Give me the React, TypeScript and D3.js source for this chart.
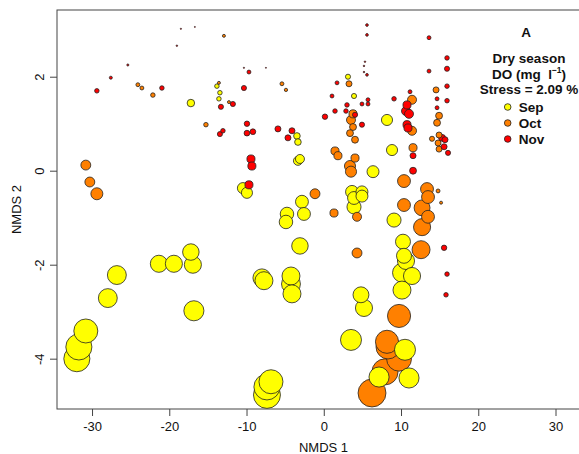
import * as d3 from 'd3';
import React from 'react';

// [NMDS1, NMDS2, size]
const sep: [number, number, number][] = [
  [-17.27, 1.45, 2.5], [-13.9, 1.81, 1.5], [-13.51, 1.67, 1.5], [-13.64, 1.54, 1.5],
  [-3.54, 0.75, 2.2], [-3.41, 0.62, 2.2], [-3.41, 0.22, 3.0], [-3.15, 0.26, 3.0],
  [-10.53, -0.36, 3.7], [-10.01, -0.46, 3.7], [-2.89, -0.65, 4.3], [-2.63, -0.91, 4.3],
  [-4.83, -0.91, 4.5], [-4.96, -1.08, 4.5], [-3.15, -1.59, 5.5], [-17.27, -1.72, 5.5],
  [-21.41, -1.97, 5.7], [-19.47, -1.97, 5.7], [-17.01, -1.99, 5.7], [-26.85, -2.21, 6.3],
  [-28.02, -2.7, 6.3], [-16.88, -2.97, 6.7], [-30.87, -3.4, 8], [-32.03, -3.99, 8.7],
  [-31.77, -3.74, 8.7], [-8.07, -2.27, 6], [-7.81, -2.33, 6], [-4.31, -2.23, 6],
  [-4.31, -2.4, 6.3], [-4.18, -2.61, 6], [-6.9, -4.48, 8], [-7.42, -4.59, 8.7],
  [-7.42, -4.76, 9], [3.07, 2.01, 1.7], [3.85, 1.6, 1.7], [8.12, 1.09, 3.7],
  [8.77, 0.45, 3.7], [6.31, -0.01, 4], [3.59, -0.44, 4.3], [4.88, -0.44, 4],
  [4.88, -0.53, 4], [3.85, -0.57, 4.3], [3.85, -0.76, 4.7], [9.03, -1.04, 4.7],
  [10.19, -1.5, 5], [10.32, -1.8, 5], [10.58, -1.91, 5.7], [10.06, -2.16, 6.3],
  [11.36, -2.23, 5.7], [10.06, -2.53, 6], [4.75, -2.63, 5.3], [5.14, -2.91, 5.7],
  [3.46, -3.59, 7], [10.45, -3.8, 7], [7.09, -4.38, 6.7], [10.97, -4.4, 6.7],
];

const oct: [number, number, number][] = [
  [-12.99, 2.88, 1], [-24.13, 1.84, 1.3], [-23.61, 1.77, 1.3], [-22.19, 1.62, 1.5],
  [-13.64, 1.88, 1], [-12.34, 1.47, 1], [-15.32, 0.99, 1.5], [-5.48, 1.86, 1.3],
  [-4.96, 1.73, 1.1], [-30.87, 0.13, 3.3], [-30.35, -0.23, 3.3], [-29.44, -0.48, 4],
  [-1.2, -0.48, 3.3], [1.26, -0.89, 2.7], [1.39, 0.43, 2.7], [1.77, 0.33, 2.7],
  [3.2, 1.86, 2], [3.72, 1.22, 2.7], [3.46, 1.09, 3], [3.72, 0.94, 2.3],
  [3.33, 0.81, 2.3], [3.98, 0.67, 2.3], [3.98, 0.28, 2.7], [3.33, 0.11, 3.7],
  [3.46, -0.01, 3.7], [4.24, -0.97, 3], [4.24, -1.74, 3.3], [11.36, 1.52, 3],
  [11.36, 0.86, 3], [11.49, 0.5, 2.7], [10.32, -0.21, 4.3], [10.32, -0.72, 4.3],
  [13.3, -0.38, 4.3], [13.43, -0.55, 4.3], [12.66, -0.78, 5.3], [13.43, -0.97, 4.3],
  [12.66, -1.19, 5.7], [12.53, -1.67, 6], [14.73, -0.42, 1.3], [15.12, -0.67, 1],
  [14.47, 1.73, 2], [14.86, 1.18, 2.3], [14.6, 1.03, 2.3], [13.95, 0.69, 1.7],
  [14.86, 0.77, 2], [14.73, 0.6, 2], [14.86, 0.47, 2], [9.68, -3.08, 7.7],
  [8.12, -3.63, 7.7], [8.25, -3.74, 8], [9.68, -3.99, 8.3], [7.86, -4.27, 8.7],
  [6.18, -4.72, 9.3],
];

const nov: [number, number, number][] = [
  [-29.44, 1.71, 1.5], [-27.63, 1.99, 1], [-21.02, 1.77, 1.5], [-13.38, 1.37, 1.7],
  [-13.12, 0.86, 1.5], [-13.51, 0.79, 1.7], [-11.83, 1.43, 1.7], [-10.4, 1.77, 1.7],
  [-9.75, 2.11, 1.3], [-10.01, 1.01, 1.8], [-10.01, 0.81, 1.9], [-9.24, 0.84, 1.9],
  [-6.0, 0.9, 2], [-4.18, 0.86, 2], [-4.7, 0.71, 2], [-9.49, 0.26, 2.7],
  [-9.37, 0.11, 2.7], [-9.75, -0.29, 2.7], [1.65, 1.88, 1.3], [1.0, 1.6, 1.3],
  [1.39, 1.28, 1.5], [0.09, 1.16, 1.8], [5.53, 3.11, 0.9], [5.53, 2.9, 0.9],
  [5.53, 2.05, 0.9], [5.66, 1.52, 1.3], [5.66, 1.43, 1.3], [4.88, 1.43, 1.3],
  [2.94, 1.41, 1.5], [2.81, 1.28, 1.5], [3.98, 1.2, 1.7], [4.88, 0.99, 1.7],
  [9.03, 1.54, 1.5], [11.1, 1.69, 1.3], [10.71, 1.41, 2.7], [10.58, 1.28, 3],
  [10.97, 1.22, 3], [10.71, 0.99, 2.7], [10.84, 0.92, 2.7], [11.49, 0.33, 2],
  [11.49, 0.01, 2.3], [13.56, 2.84, 1.3], [15.89, 2.41, 1.5], [15.89, 2.18, 1.7],
  [13.56, 2.13, 1.3], [15.89, 1.81, 1.5], [14.6, 1.54, 1.3], [15.89, 1.5, 1.5],
  [14.6, 1.35, 1.3], [15.25, 0.71, 2.3], [15.63, 0.67, 2], [15.51, 0.52, 2],
  [16.02, 0.39, 1.7], [15.51, -1.63, 1.8], [15.89, -2.19, 1.5], [15.76, -2.63, 1.5],
  [-25.43, 2.26, 0.7], [-18.56, 3.03, 0.4], [-16.75, 3.07, 0.3], [-19.08, 2.67, 0.5],
  [-10.4, 2.2, 0.4], [-7.55, 2.2, 0.3], [5.27, 2.33, 0.5], [5.14, 2.24, 0.5],
  [5.14, 2.11, 0.5],
];

const months = ['Sep', 'Oct', 'Nov'];
const monthColors = ['#FFFF00', '#FF8000', '#FF0000'];
const xTicks = [-30, -20, -10, 0, 10, 20, 30];
const yTicks = [-4, -2, 0, 2];

export default function App() {
  const width = 579;
  const height = 454;
  const left = 57, right = 590, top = 10, bottom = 409;

  const x = d3.scaleLinear().domain([-34.6, 34.4]).range([left, right]);
  const y = d3.scaleLinear().domain([-5.06, 3.43]).range([bottom, top]);
  const r = d3.scaleLinear().domain([0, 10]).range([0, 15]);
  const color = d3.scaleOrdinal<string, string>().domain(months).range(monthColors);

  // big circles first, small ones on top
  const pts = [
    ...sep.map(d => ({ m: 'Sep', x: d[0], y: d[1], s: d[2] })),
    ...oct.map(d => ({ m: 'Oct', x: d[0], y: d[1], s: d[2] })),
    ...nov.map(d => ({ m: 'Nov', x: d[0], y: d[1], s: d[2] })),
  ].sort((a, b) => b.s - a.s);

  const font = 'Liberation Sans, Arial, Helvetica, sans-serif';
  const lx = 529;

  return (
    <svg width={width} height={height} style={{ position: 'absolute', left: 0, top: 0 }}
      fontFamily={font}>
      <rect x={0} y={0} width={width} height={height} fill="#fff" />
      {pts.map((p, i) => (
        <circle key={i} cx={x(p.x)} cy={y(p.y)} r={Math.max(r(p.s), 0.5)}
          fill={color(p.m)} stroke="#222" strokeWidth={0.8} />
      ))}
      <rect x={left} y={top} width={right - left} height={bottom - top}
        fill="none" stroke="#444" strokeWidth={1} />

      {xTicks.map(t => (
        <g key={t} transform={`translate(${x(t)},${bottom})`}>
          <line y2={7} stroke="#444" />
          <text y={22} textAnchor="middle" fontSize={13} fill="#111">{t}</text>
        </g>
      ))}
      {yTicks.map(t => (
        <g key={t} transform={`translate(${left},${y(t)})`}>
          <line x2={-7} stroke="#444" />
          <text transform="translate(-13,0) rotate(-90)" textAnchor="middle"
            fontSize={13} fill="#111">{t}</text>
        </g>
      ))}
      <text x={(left + right) / 2} y={452} textAnchor="middle" fontSize={13} fill="#111">NMDS 1</text>
      <text transform={`translate(21,${(top + bottom) / 2}) rotate(-90)`} textAnchor="middle"
        fontSize={13} fill="#111">NMDS 2</text>

      <g fontWeight="bold" fontSize={13.5} fill="#111" textAnchor="middle">
        <text x={526} y={37}>A</text>
        <text x={lx} y={63}>Dry season</text>
        <text x={lx} y={79} style={{ whiteSpace: 'pre' }}>
          {'DO (mg  l'}<tspan fontSize={8.5} dy={-6}>−1</tspan><tspan dy={6}>)</tspan>
        </text>
        <text x={lx} y={94} style={{ whiteSpace: 'pre' }}>Stress = 2.09 %</text>
      </g>
      {months.map((m, i) => (
        <g key={m} transform={`translate(507.7,${107 + i * 16})`}>
          <circle r={3.3} fill={color(m)} stroke="#222" strokeWidth={0.8} />
          <text x={11} y={5} fontWeight="bold" fontSize={13.5} fill="#111">{m}</text>
        </g>
      ))}
    </svg>
  );
}
